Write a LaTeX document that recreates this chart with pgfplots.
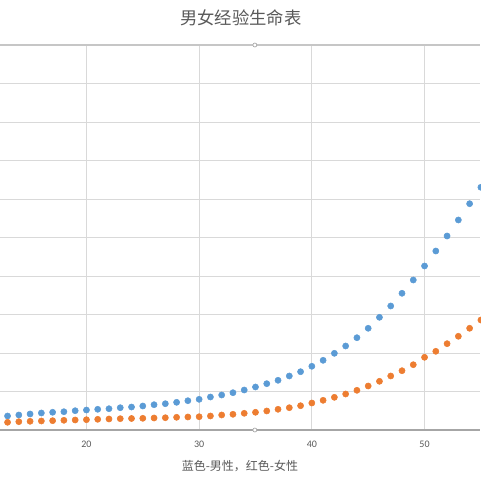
\documentclass[border=0pt]{standalone}
\usepackage{fontspec}
\setmainfont{Carlito}
\newfontfamily\cjk{Noto Sans CJK SC}
\usepackage{pgfplots}
\pgfplotsset{compat=1.18}

\definecolor{male}{HTML}{5B9BD5}
\definecolor{female}{HTML}{ED7D31}
\definecolor{gridc}{HTML}{D9D9D9}
\definecolor{txt}{HTML}{595959}

\begin{document}
\begin{tikzpicture}
\useasboundingbox (0,0) rectangle (360pt,360pt);
\begin{axis}[
    at={(0pt,37.5pt)}, anchor=south west,
    scale only axis, width=360pt, height=288.75pt,
    xmin=12.33, xmax=54.92, ymin=0, ymax=10,
    axis line style={draw=none},
    xtick={20,30,40,50}, ytick={1,...,10}, yticklabels={},
    major tick length=0pt,
    grid=major, major grid style={gridc, line width=0.75pt},
    xticklabel style={font=\fontsize{7.5}{9}\selectfont, text=txt, yshift=-4.5pt},
    /pgf/number format/assume math mode=true,
    xlabel={\cjk 蓝色-男性，红色-女性},
    xlabel style={font=\fontsize{9}{11}\selectfont, text=txt, yshift=-3pt},
    clip=false,
]
\addplot[only marks, mark=*, mark size=2.3pt, male, mark options={draw=male, fill=male}]
coordinates {
(13,0.364) (14,0.390) (15,0.416) (16,0.442) (17,0.460) (18,0.475) (19,0.501)
(20,0.519) (21,0.538) (22,0.553) (23,0.579) (24,0.597) (25,0.623) (26,0.657)
(27,0.683) (28,0.719) (29,0.761) (30,0.797) (31,0.857) (32,0.909) (33,0.969)
(34,1.039) (35,1.117) (36,1.203) (37,1.291) (38,1.403) (39,1.514) (40,1.655)
(41,1.810) (42,1.992) (43,2.182) (44,2.397) (45,2.642) (46,2.927) (47,3.221)
(48,3.551) (49,3.896) (50,4.260) (51,4.649) (52,5.039) (53,5.455) (54,5.878)
(55,6.304)};
\addplot[only marks, mark=*, mark size=2.3pt, female, mark options={draw=female, fill=female}]
coordinates {
(13,0.200) (14,0.216) (15,0.226) (16,0.234) (17,0.242) (18,0.252) (19,0.260)
(20,0.268) (21,0.278) (22,0.286) (23,0.294) (24,0.299) (25,0.304) (26,0.312)
(27,0.319) (28,0.330) (29,0.338) (30,0.345) (31,0.364) (32,0.390) (33,0.408)
(34,0.434) (35,0.460) (36,0.494) (37,0.538) (38,0.579) (39,0.631) (40,0.701)
(41,0.771) (42,0.849) (43,0.935) (44,1.031) (45,1.143) (46,1.265) (47,1.403)
(48,1.540) (49,1.696) (50,1.888) (51,2.044) (52,2.242) (53,2.434) (54,2.642)
(55,2.857)};
\draw[color=gray!70, line width=0.9pt] (rel axis cs:0,0) -- (rel axis cs:1,0);
\draw[color=gray!45, line width=0.8pt] (rel axis cs:0,1) -- (rel axis cs:1,1);
\draw[gray!70, fill=white, line width=0.5pt] (rel axis cs:0.531,0) circle (1.5pt);
\draw[gray!70, fill=white, line width=0.5pt] (rel axis cs:0.531,1) circle (1.5pt);
\end{axis}
\node[text=txt, font=\cjk\fontsize{13}{15}\selectfont] at (180.75pt,347pt) {男女经验生命表};
\end{tikzpicture}
\end{document}
